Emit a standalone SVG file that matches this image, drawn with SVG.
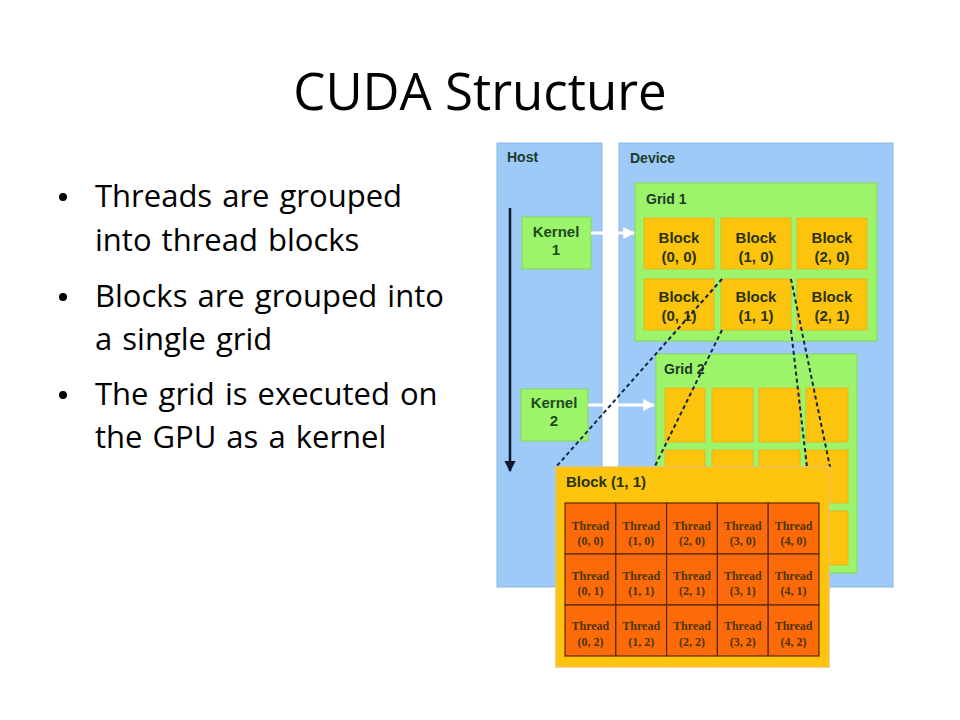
<svg xmlns="http://www.w3.org/2000/svg" width="960" height="720" viewBox="0 0 960 720">
<defs>
<style>
.title{font-family:"Open Sans","Liberation Sans",sans-serif;font-size:51px;fill:#000}
.bul{font-family:"Open Sans","Liberation Sans",sans-serif;font-size:31px;fill:#000;word-spacing:2px}
.lbl{font-family:"Liberation Sans",Arial,sans-serif;font-weight:bold;font-size:14px;fill:#1e3a2a}
.blk{font-family:"Liberation Sans",Arial,sans-serif;font-weight:bold;font-size:15px;fill:#2a3310;text-anchor:middle}
.thr{font-family:"Liberation Serif","Times New Roman",serif;font-weight:bold;font-size:12px;fill:#4e3600;text-anchor:middle}
.panel{fill:#9dcaf7;stroke:#8ab6e2;stroke-width:1}
.grid{fill:#9cf46a;stroke:#86d85a;stroke-width:1}
.block{fill:#fcc40c;stroke:#e8b020;stroke-width:0.8}
.kern{fill:#9cf46a;stroke:#86d85a;stroke-width:1}
.thread{fill:#fd6a0a;stroke:#5a2a08;stroke-width:1.2}
.dash{stroke:#142446;stroke-width:2;stroke-dasharray:4 3;fill:none}
.warrow{stroke:#ffffff;stroke-width:3;fill:none}
</style>
<marker id="wh" viewBox="0 0 10 10" refX="9" refY="5" markerWidth="4" markerHeight="4" orient="auto" markerUnits="strokeWidth">
<path d="M0,0 L10,5 L0,10 z" fill="#ffffff"/>
</marker>
<marker id="dk" viewBox="0 0 10 10" refX="9" refY="5" markerWidth="4.5" markerHeight="4.5" orient="auto" markerUnits="strokeWidth">
<path d="M0,0 L10,5 L0,10 z" fill="#101830"/>
</marker>
</defs>
<rect width="960" height="720" fill="#ffffff"/>
<text class="title" x="480" y="110" text-anchor="middle">CUDA Structure</text>
<g id="bullets">
<circle cx="63" cy="197" r="4" fill="#000"/>
<text class="bul" x="95" y="207">Threads are grouped</text>
<text class="bul" x="95" y="251">into thread blocks</text>
<circle cx="63" cy="297" r="4" fill="#000"/>
<text class="bul" x="95" y="307">Blocks are grouped into</text>
<text class="bul" x="95" y="350">a single grid</text>
<circle cx="63" cy="395" r="4" fill="#000"/>
<text class="bul" x="95" y="405">The grid is executed on</text>
<text class="bul" x="95" y="448">the GPU as a kernel</text>
</g>
<g id="host">
<rect class="panel" x="497" y="143" width="105" height="444"/>
<text class="lbl" x="507" y="162">Host</text>
</g>
<g id="device">
<rect class="panel" x="619" y="143" width="274" height="444"/>
<text class="lbl" x="630" y="163">Device</text>
</g>
<g id="grid1">
<rect class="grid" x="635" y="183" width="242" height="158"/>
<text class="lbl" x="646" y="204">Grid 1</text>
<rect class="block" x="644" y="218" width="70" height="51"/>
<text class="blk" x="679" y="243">Block</text><text class="blk" x="679" y="262">(0, 0)</text>
<rect class="block" x="721" y="218" width="70" height="51"/>
<text class="blk" x="756" y="243">Block</text><text class="blk" x="756" y="262">(1, 0)</text>
<rect class="block" x="797" y="218" width="70" height="51"/>
<text class="blk" x="832" y="243">Block</text><text class="blk" x="832" y="262">(2, 0)</text>
<rect class="block" x="644" y="279" width="70" height="51"/>
<text class="blk" x="679" y="302">Block</text><text class="blk" x="679" y="321">(0, 1)</text>
<rect class="block" x="721" y="279" width="70" height="51"/>
<text class="blk" x="756" y="302">Block</text><text class="blk" x="756" y="321">(1, 1)</text>
<rect class="block" x="797" y="279" width="70" height="51"/>
<text class="blk" x="832" y="302">Block</text><text class="blk" x="832" y="321">(2, 1)</text>
</g>
<g id="grid2">
<rect class="grid" x="656" y="354" width="201" height="219"/>
<text class="lbl" x="664" y="374">Grid 2</text>
<rect class="block" x="665" y="388" width="40" height="54"/>
<rect class="block" x="712" y="388" width="41" height="54"/>
<rect class="block" x="759" y="388" width="41" height="54"/>
<rect class="block" x="806" y="388" width="42" height="54"/>
<rect class="block" x="665" y="450" width="40" height="53"/>
<rect class="block" x="712" y="450" width="41" height="53"/>
<rect class="block" x="759" y="450" width="41" height="53"/>
<rect class="block" x="806" y="450" width="42" height="53"/>
<rect class="block" x="665" y="511" width="40" height="54"/>
<rect class="block" x="712" y="511" width="41" height="54"/>
<rect class="block" x="759" y="511" width="41" height="54"/>
<rect class="block" x="806" y="511" width="42" height="54"/>
</g>
<g id="kernel1">
<rect class="kern" x="522" y="217" width="69" height="52"/>
<text class="blk" x="556" y="237" style="fill:#1e4a1e">Kernel</text>
<text class="blk" x="556" y="255" style="fill:#1e4a1e">1</text>
</g>
<g id="kernel2">
<rect class="kern" x="521" y="389" width="67" height="52"/>
<text class="blk" x="554" y="408" style="fill:#1e4a1e">Kernel</text>
<text class="blk" x="554" y="426" style="fill:#1e4a1e">2</text>
</g>
<g id="connectors">
<line x1="510" y1="208" x2="510" y2="471" stroke="#101830" stroke-width="2.5" marker-end="url(#dk)"/>
<line class="warrow" x1="591" y1="233" x2="634" y2="233" marker-end="url(#wh)"/>
<line class="warrow" x1="588" y1="405" x2="654" y2="405" marker-end="url(#wh)"/>
<line class="dash" x1="722" y1="279" x2="556" y2="467"/>
<line class="dash" x1="722" y1="330" x2="654.5" y2="467"/>
<line class="dash" x1="791" y1="279" x2="830" y2="467"/>
<line class="dash" x1="791" y1="330" x2="807" y2="467"/>
</g>
<g id="block11">
<rect x="556" y="467" width="273" height="200" fill="#fcc40c" stroke="#f0c060" stroke-width="1.5"/>
<text class="lbl" x="566" y="487" style="fill:#2a3310;font-size:15px">Block (1, 1)</text>
<g id="threads">
<rect class="thread" x="565" y="503" width="50.8" height="51"/>
<rect class="thread" x="615.8" y="503" width="50.8" height="51"/>
<rect class="thread" x="666.6" y="503" width="50.8" height="51"/>
<rect class="thread" x="717.4" y="503" width="50.8" height="51"/>
<rect class="thread" x="768.2" y="503" width="50.8" height="51"/>
<rect class="thread" x="565" y="554" width="50.8" height="51"/>
<rect class="thread" x="615.8" y="554" width="50.8" height="51"/>
<rect class="thread" x="666.6" y="554" width="50.8" height="51"/>
<rect class="thread" x="717.4" y="554" width="50.8" height="51"/>
<rect class="thread" x="768.2" y="554" width="50.8" height="51"/>
<rect class="thread" x="565" y="605" width="50.8" height="51"/>
<rect class="thread" x="615.8" y="605" width="50.8" height="51"/>
<rect class="thread" x="666.6" y="605" width="50.8" height="51"/>
<rect class="thread" x="717.4" y="605" width="50.8" height="51"/>
<rect class="thread" x="768.2" y="605" width="50.8" height="51"/>
<text class="thr" x="590.4" y="530">Thread</text><text class="thr" x="590.4" y="545">(0, 0)</text>
<text class="thr" x="641.2" y="530">Thread</text><text class="thr" x="641.2" y="545">(1, 0)</text>
<text class="thr" x="692" y="530">Thread</text><text class="thr" x="692" y="545">(2, 0)</text>
<text class="thr" x="742.8" y="530">Thread</text><text class="thr" x="742.8" y="545">(3, 0)</text>
<text class="thr" x="793.6" y="530">Thread</text><text class="thr" x="793.6" y="545">(4, 0)</text>
<text class="thr" x="590.4" y="580">Thread</text><text class="thr" x="590.4" y="595">(0, 1)</text>
<text class="thr" x="641.2" y="580">Thread</text><text class="thr" x="641.2" y="595">(1, 1)</text>
<text class="thr" x="692" y="580">Thread</text><text class="thr" x="692" y="595">(2, 1)</text>
<text class="thr" x="742.8" y="580">Thread</text><text class="thr" x="742.8" y="595">(3, 1)</text>
<text class="thr" x="793.6" y="580">Thread</text><text class="thr" x="793.6" y="595">(4, 1)</text>
<text class="thr" x="590.4" y="630">Thread</text><text class="thr" x="590.4" y="646">(0, 2)</text>
<text class="thr" x="641.2" y="630">Thread</text><text class="thr" x="641.2" y="646">(1, 2)</text>
<text class="thr" x="692" y="630">Thread</text><text class="thr" x="692" y="646">(2, 2)</text>
<text class="thr" x="742.8" y="630">Thread</text><text class="thr" x="742.8" y="646">(3, 2)</text>
<text class="thr" x="793.6" y="630">Thread</text><text class="thr" x="793.6" y="646">(4, 2)</text>
</g>
</g>
</svg>
